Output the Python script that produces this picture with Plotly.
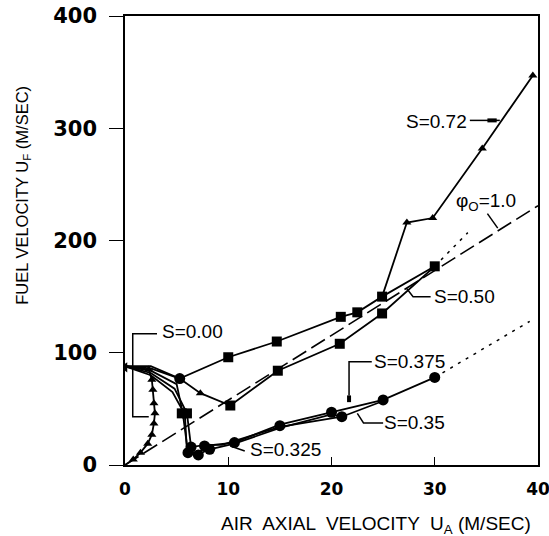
import plotly.graph_objects as go

# ---------------- data ----------------
PHI_X = [0, 40]
PHI_Y = [0, 231]

DOT1_X = [30.0, 33.2]
DOT1_Y = [177, 207]
DOT2_X = [30.0, 39.2]
DOT2_Y = [78, 128]

S000_X = [0, 2.3, 2.6, 2.7, 2.8, 2.9, 2.8, 2.6, 2.2, 1.5, 0.8, 0]
S000_Y = [88, 85, 76, 67, 55, 46, 37, 27, 19, 11, 5, 0]

S050_X = [0, 2.5, 5.3, 7.3, 10.2, 14.8, 20.8, 24.9, 30.0]
S050_Y = [88, 86, 77, 64, 53, 84, 108, 135, 177]

UPPER_X = [0, 2.5, 5.3, 10.0, 14.7, 20.9, 22.5, 24.9, 30.0]
UPPER_Y = [88, 88, 77, 96, 110, 132, 136, 150, 177]

S072_X = [24.9, 27.3, 29.8, 34.6, 39.5]
S072_Y = [150, 216, 220, 282, 347]

S0375_X = [0, 2.5, 5.0, 5.6, 6.1, 7.1, 7.7, 10.6, 15.0, 20.0, 25.0, 30.0]
S0375_Y = [88, 84, 72, 46, 11, 9, 17, 20, 36, 47, 58, 78]
S035_X = [0, 2.5, 4.8, 6.0, 6.4, 7.8, 9.4, 15.0, 21.0, 25.0]
S035_Y = [88, 82, 68, 46, 16, 18, 18, 34, 43, 57]
S0325_X = [0, 2.5, 4.6, 5.8, 6.0, 7.2, 8.2, 10.6, 15.0, 20.0, 21.0]
S0325_Y = [88, 80, 65, 45, 12, 10, 14, 19, 33, 45, 43]

SQUARE_X = [5.5, 6.0, 10.0, 14.7, 20.9, 22.5, 24.9, 30.0, 10.2, 14.8, 20.8, 24.9]
SQUARE_Y = [46, 46, 96, 110, 132, 136, 150, 177, 53, 84, 108, 135]
TRIANGLE_X = [2.3, 2.6, 2.7, 2.8, 2.9, 2.8, 2.6, 2.2, 1.5, 0.8, 7.3, 27.3, 29.8, 34.6, 39.5]
TRIANGLE_Y = [85, 76, 67, 55, 46, 37, 27, 19, 11, 5, 64, 216, 220, 282, 347]
START_X = [0]
START_Y = [87]
CIRCLE_X = [5.3, 6.1, 7.1, 7.7, 6.4, 8.2, 10.6, 15.0, 20.0, 21.0, 25.0, 30.0]
CIRCLE_Y = [77, 11, 9, 17, 16, 14, 20, 35, 47, 43, 58, 78]

X_TICKS = [0, 10, 20, 30, 40]
Y_TICKS = [0, 100, 200, 300, 400]

# ---------------- figure ----------------
fig = go.Figure()
LINE = dict(color="black", width=1.8)

fig.add_trace(go.Scatter(x=PHI_X, y=PHI_Y, mode="lines",
                         line=dict(color="black", width=1.6, dash="16px,6px")))
for xs, ys in [(DOT1_X, DOT1_Y), (DOT2_X, DOT2_Y)]:
    fig.add_trace(go.Scatter(x=xs, y=ys, mode="lines",
                             line=dict(color="black", width=1.5, dash="3px,6px")))

for xs, ys in [(S000_X, S000_Y), (S050_X, S050_Y), (UPPER_X, UPPER_Y),
               (S072_X, S072_Y), (S0375_X, S0375_Y), (S035_X, S035_Y),
               (S0325_X, S0325_Y)]:
    fig.add_trace(go.Scatter(x=xs, y=ys, mode="lines", line=LINE))

fig.add_trace(go.Scatter(x=SQUARE_X, y=SQUARE_Y, mode="markers",
                         marker=dict(symbol="square", size=10, color="black")))
fig.add_trace(go.Scatter(x=TRIANGLE_X, y=TRIANGLE_Y, mode="markers",
                         marker=dict(symbol="triangle-up", size=8, color="black")))
fig.add_trace(go.Scatter(x=START_X, y=START_Y, mode="markers",
                         marker=dict(symbol="triangle-left", size=9, color="black")))
fig.add_trace(go.Scatter(x=CIRCLE_X, y=CIRCLE_Y, mode="markers",
                         marker=dict(symbol="circle", size=11, color="black")))

# ---------------- labels & leaders ----------------
LBL_FONT = dict(family="Liberation Sans, Arial, sans-serif", size=19, color="black")


def label(text, x, y):
    fig.add_annotation(x=x, y=y, xref="x", yref="y", text=text, showarrow=False,
                       font=LBL_FONT, xanchor="center", yanchor="middle")


def leader(pts, width=1.5):
    path = "M " + " L ".join(f"{px},{py}" for px, py in pts)
    fig.add_shape(type="path", path=path, xref="x", yref="y",
                  line=dict(color="black", width=width))


label("S=0.72", 30.2, 306)
leader([(33.4, 307), (36.3, 307)])
leader([(35.1, 307), (36.0, 307)], width=4)

label("S=0.50", 32.9, 150)
leader([(29.6, 150), (27.9, 150), (27.3, 157)])

label("S=0.00", 6.5, 118.5)
leader([(3.1, 117), (0.75, 117), (0.75, 43), (2.3, 43)])

label("S=0.375", 27.6, 92)
leader([(23.9, 92), (21.7, 92), (21.7, 62)])
leader([(21.7, 62), (21.7, 56)], width=4)

label("S=0.35", 28.0, 37.5)
leader([(25.0, 37.5), (23.1, 37.5), (22.5, 46)])

label("S=0.325", 15.5, 13.5)
leader([(11.6, 12.5), (10.2, 17)])

label("φ<sub>O</sub>=1.0", 35.0, 234)
leader([(35.1, 224), (36.1, 211)])

# axis titles
fig.add_annotation(text="AIR  AXIAL  VELOCITY  U<sub>A</sub> (M/SEC)",
                   xref="paper", yref="paper", x=0.608, y=-0.134,
                   showarrow=False,
                   font=dict(family="Liberation Sans, Arial, sans-serif", size=19, color="black"),
                   xanchor="center", yanchor="middle")
fig.add_annotation(text="FUEL VELOCITY U<sub>F</sub> (M/SEC)",
                   xref="paper", yref="paper", x=-0.249, y=0.6, textangle=-90,
                   showarrow=False,
                   font=dict(family="Liberation Sans Narrow, Liberation Sans, Arial, sans-serif",
                             size=16.5, color="black"),
                   xanchor="center", yanchor="middle")

fig.update_xaxes(range=[0, 40], tickvals=X_TICKS, ticktext=[str(v) for v in X_TICKS],
                 showline=True, linecolor="black", linewidth=1.5, mirror=True,
                 ticks="inside", ticklen=8, tickwidth=1.3, tickcolor="black",
                 showgrid=False, zeroline=False, automargin=False,
                 ticklabeloverflow="allow",
                 tickfont=dict(family="DejaVu Sans, sans-serif", size=17, color="black", weight="bold"),
                 ticklabelstandoff=8)
fig.update_yaxes(range=[0, 400], tickvals=Y_TICKS, ticktext=[str(v) for v in Y_TICKS],
                 showline=True, linecolor="black", linewidth=1.5, mirror=True,
                 ticks="outside", ticklen=14, tickwidth=1.3, tickcolor="black",
                 showgrid=False, zeroline=False, automargin=False,
                 ticklabeloverflow="allow",
                 tickfont=dict(family="DejaVu Sans, sans-serif", size=21, color="black", weight="bold"),
                 ticklabelstandoff=8)

fig.update_layout(width=549, height=536, showlegend=False,
                  margin=dict(l=125, r=11, t=16, b=71),
                  paper_bgcolor="white", plot_bgcolor="white")

fig.write_html("out.html")
